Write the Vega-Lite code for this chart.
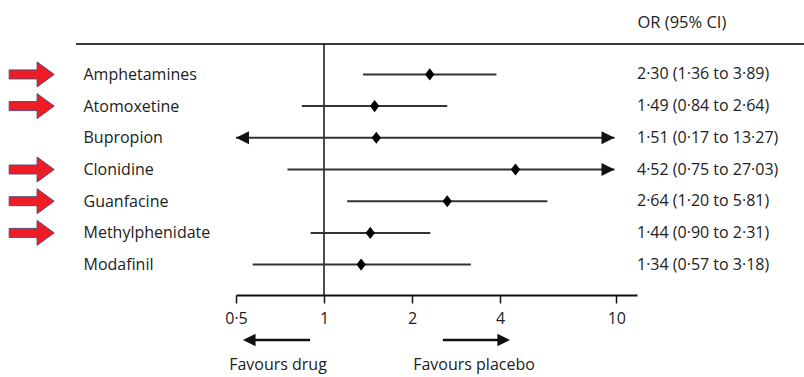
{
  "$schema": "https://vega.github.io/schema/vega-lite/v6.json",
  "width": 401,
  "height": 251,
  "autosize": "none",
  "padding": {"left": 236, "top": 44, "right": 167, "bottom": 82},
  "background": "white",
  "config": {"view": {"stroke": null}, "font": "Open Sans", "axis": {"grid": false}},
  "datasets": {
    "trials": [
      {"drug": "Amphetamines", "or": 2.30, "lo": 1.36, "hi": 3.89, "lo_drawn": 1.36, "hi_drawn": 3.89, "flagged": true, "ci_text": "2·30 (1·36 to 3·89)"},
      {"drug": "Atomoxetine", "or": 1.49, "lo": 0.84, "hi": 2.64, "lo_drawn": 0.84, "hi_drawn": 2.64, "flagged": true, "ci_text": "1·49 (0·84 to 2·64)"},
      {"drug": "Bupropion", "or": 1.51, "lo": 0.17, "hi": 13.27, "lo_drawn": 0.5, "hi_drawn": 9.86, "flagged": false, "ci_text": "1·51 (0·17 to 13·27)"},
      {"drug": "Clonidine", "or": 4.52, "lo": 0.75, "hi": 27.03, "lo_drawn": 0.75, "hi_drawn": 9.86, "flagged": true, "ci_text": "4·52 (0·75 to 27·03)"},
      {"drug": "Guanfacine", "or": 2.64, "lo": 1.20, "hi": 5.81, "lo_drawn": 1.20, "hi_drawn": 5.81, "flagged": true, "ci_text": "2·64 (1·20 to 5·81)"},
      {"drug": "Methylphenidate", "or": 1.44, "lo": 0.90, "hi": 2.31, "lo_drawn": 0.90, "hi_drawn": 2.31, "flagged": true, "ci_text": "1·44 (0·90 to 2·31)"},
      {"drug": "Modafinil", "or": 1.34, "lo": 0.57, "hi": 3.18, "lo_drawn": 0.57, "hi_drawn": 3.18, "flagged": false, "ci_text": "1·34 (0·57 to 3·18)"}
    ],
    "truncated": [
      {"drug": "Bupropion", "end": "left", "at": 0.5},
      {"drug": "Bupropion", "end": "right", "at": 9.86},
      {"drug": "Clonidine", "end": "right", "at": 9.86}
    ]
  },
  "data": {"name": "trials"},
  "resolve": {"axis": {"y": "independent"}},
  "layer": [
    {
      "data": {"values": [{}]},
      "mark": {"type": "rule", "color": "#3a3a3a", "strokeWidth": 2},
      "encoding": {"x": {"datum": 0.1418}, "x2": {"datum": 43.85}, "y": {"value": 0}}
    },
    {
      "data": {"values": [{}]},
      "mark": {"type": "rule", "color": "#111111", "strokeWidth": 1.5},
      "encoding": {"x": {"datum": 1}}
    },
    {
      "mark": {"type": "rule", "color": "#333333", "strokeWidth": 2},
      "encoding": {
        "y": {
          "field": "drug", "type": "nominal",
          "scale": {"type": "point", "padding": 0.96, "domain": ["Amphetamines", "Atomoxetine", "Bupropion", "Clonidine", "Guanfacine", "Methylphenidate", "Modafinil"]},
          "axis": {"title": null, "domain": false, "ticks": false, "tickSize": 0, "labelAlign": "left", "labelPadding": 153, "labelFontSize": 16, "labelColor": "#222222", "labelFont": "Open Sans", "labelBaseline": "middle"}
        },
        "x": {
          "field": "lo_drawn", "type": "quantitative", "title": null,
          "scale": {"type": "log", "domain": [0.5, 11.77], "nice": false},
          "axis": {"title": null, "values": [0.5, 1, 2, 4, 10], "format": "~g", "labelExpr": "replace(datum.label, '.', '·')", "labelFlush": false, "domainColor": "#111111", "domainWidth": 2, "tickColor": "#111111", "tickWidth": 1.5, "tickSize": 8, "labelPadding": 7, "labelFontSize": 16, "labelColor": "#222222", "labelFont": "Open Sans"}
        },
        "x2": {"field": "hi_drawn"}
      }
    },
    {
      "mark": {"type": "point", "shape": "M-0.85,0L0,-1.1L0.85,0L0,1.1Z", "filled": true, "color": "#000000", "size": 121, "opacity": 1},
      "encoding": {
        "x": {"field": "or", "type": "quantitative", "title": null},
        "y": {"field": "drug", "type": "nominal", "axis": null}
      }
    },
    {
      "data": {"name": "truncated"},
      "mark": {"type": "point", "filled": true, "color": "#111111", "size": 169, "opacity": 1},
      "encoding": {
        "x": {"field": "at", "type": "quantitative", "title": null},
        "y": {"field": "drug", "type": "nominal", "axis": null},
        "shape": {"field": "end", "type": "nominal", "scale": {"domain": ["left", "right"], "range": ["M0,0L2,-1L2,1Z", "M0,0L-2,-1L-2,1Z"]}, "legend": null}
      }
    },
    {
      "transform": [{"filter": "datum.flagged"}],
      "mark": {"type": "point", "shape": "M-1,-0.2L0.24,-0.2L0.24,-0.555L1,0L0.24,0.555L0.24,0.2L-1,0.2Z", "fill": "#ee1c25", "stroke": "#5a4a78", "strokeWidth": 1, "size": 2025, "opacity": 1, "fillOpacity": 1},
      "encoding": {
        "x": {"datum": 0.1},
        "y": {"field": "drug", "type": "nominal", "axis": null}
      }
    },
    {
      "mark": {"type": "text", "align": "left", "baseline": "middle", "fontSize": 16, "color": "#222222", "font": "Open Sans"},
      "encoding": {
        "x": {"value": "width"},
        "y": {"field": "drug", "type": "nominal", "axis": {"orient": "right", "labels": false, "ticks": false, "domain": false, "title": "OR (95% CI)", "titleAngle": 0, "titleAlign": "left", "titleBaseline": "middle", "titleX": 0, "titleY": -22, "titleFontSize": 16.5, "titleFontWeight": "normal", "titleColor": "#222222", "titleFont": "Open Sans"}},
        "text": {"field": "ci_text"}
      }
    },
    {
      "data": {"values": [{}]},
      "layer": [
        {"mark": {"type": "rule", "color": "#111111", "strokeWidth": 2.5}, "encoding": {"x": {"datum": 0.56}, "x2": {"datum": 0.896}, "y": {"value": {"expr": "height + 45"}}}},
        {"mark": {"type": "point", "shape": "M0,0L2,-1L2,1Z", "filled": true, "color": "#111111", "size": 160, "opacity": 1}, "encoding": {"x": {"datum": 0.528}, "y": {"value": {"expr": "height + 45"}}}},
        {"mark": {"type": "rule", "color": "#111111", "strokeWidth": 2.5}, "encoding": {"x": {"datum": 2.55}, "x2": {"datum": 4.1}, "y": {"value": {"expr": "height + 45"}}}},
        {"mark": {"type": "point", "shape": "M0,0L-2,-1L-2,1Z", "filled": true, "color": "#111111", "size": 160, "opacity": 1}, "encoding": {"x": {"datum": 4.33}, "y": {"value": {"expr": "height + 45"}}}},
        {"mark": {"type": "text", "align": "center", "baseline": "middle", "fontSize": 16, "color": "#222222", "font": "Open Sans"}, "encoding": {"x": {"datum": 0.696}, "y": {"value": {"expr": "height + 70"}}, "text": {"value": "Favours drug"}}},
        {"mark": {"type": "text", "align": "center", "baseline": "middle", "fontSize": 16, "color": "#222222", "font": "Open Sans"}, "encoding": {"x": {"datum": 3.26}, "y": {"value": {"expr": "height + 70"}}, "text": {"value": "Favours placebo"}}}
      ]
    }
  ]
}
